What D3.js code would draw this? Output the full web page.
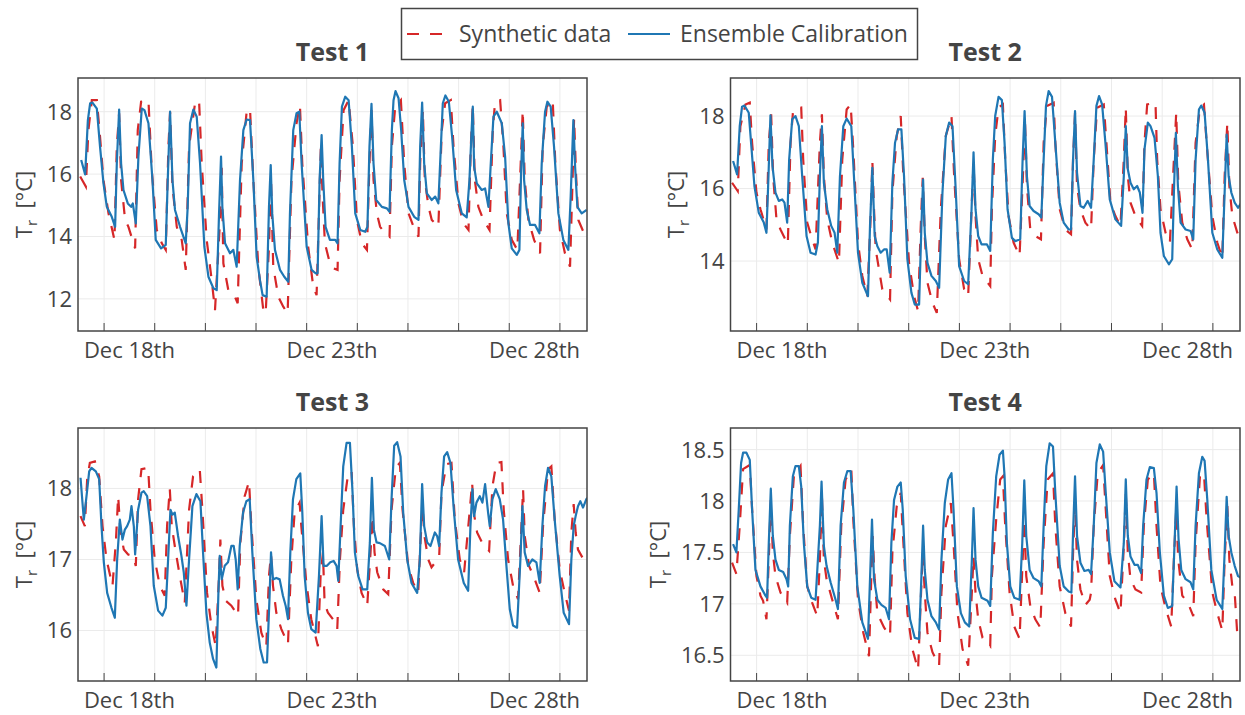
<!DOCTYPE html>
<html>
<head>
<meta charset="utf-8">
<script src="https://cdn.jsdelivr.net/npm/d3@7"></script>
<style>
  body { margin: 0; background: #fff; }
  svg { font-family: 'Open Sans', sans-serif; }
</style>
</head>
<body>
<div id="container"></div>
<script>
// values, [day, temperature]
const test1Synthetic = [[0.528,15.92],[0.64,15.6],[0.69,17.4],[0.758,18.37],[0.857,18.37],[0.92,17.2],[0.988,15.81],[1.087,14.74],[1.205,13.89],[1.251,16.88],[1.297,17.95],[1.336,15.81],[1.415,14.53],[1.481,14.31],[1.613,13.62],[1.665,17.41],[1.731,18.32],[1.876,18.37],[1.941,16.13],[2.04,14.21],[2.14,13.78],[2.218,13.57],[2.27,16.88],[2.303,18.0],[2.35,15.6],[2.435,14.31],[2.533,13.89],[2.612,12.93],[2.678,16.88],[2.796,18.27],[2.875,18.37],[2.928,16.34],[3.026,13.89],[3.125,12.6],[3.19,11.64],[3.29,14.53],[3.322,16.2],[3.355,13.14],[3.453,12.28],[3.552,12.18],[3.638,11.86],[3.717,16.34],[3.815,18.0],[3.881,18.1],[3.947,15.81],[4.045,13.03],[4.144,11.64],[4.19,11.53],[4.256,13.67],[4.295,15.9],[4.34,13.03],[4.44,12.07],[4.538,11.75],[4.624,11.53],[4.7,15.81],[4.8,17.63],[4.867,18.21],[4.913,16.34],[5.03,13.67],[5.13,12.39],[5.196,12.12],[5.242,14.74],[5.28,16.88],[5.315,15.28],[5.36,13.78],[5.459,13.14],[5.532,12.98],[5.61,12.93],[5.65,15.81],[5.729,18.05],[5.828,18.37],[5.913,16.88],[5.992,14.53],[6.09,13.78],[6.19,13.57],[6.24,16.34],[6.28,18.05],[6.32,15.81],[6.386,14.74],[6.45,14.31],[6.55,14.1],[6.636,13.99],[6.682,16.88],[6.748,18.16],[6.86,18.37],[6.926,16.34],[7.011,14.74],[7.11,14.31],[7.208,13.99],[7.241,16.34],[7.294,18.05],[7.333,15.81],[7.406,14.95],[7.47,14.53],[7.6,14.31],[7.668,17.41],[7.734,18.27],[7.846,18.37],[7.9,16.88],[7.997,15.06],[8.096,14.42],[8.195,14.21],[8.24,16.88],[8.28,18.21],[8.32,15.81],[8.39,14.95],[8.49,14.53],[8.61,14.21],[8.675,17.41],[8.72,18.32],[8.82,18.37],[8.885,16.88],[8.95,14.74],[9.05,13.89],[9.16,13.57],[9.226,16.34],[9.266,18.05],[9.306,15.81],[9.378,14.53],[9.49,13.89],[9.608,13.46],[9.66,16.88],[9.74,18.16],[9.858,18.37],[9.91,16.34],[10.0,14.21],[10.1,13.46],[10.2,13.03],[10.25,15.81],[10.28,17.79],[10.318,16.02],[10.364,14.53],[10.463,14.15],[10.56,13.99]];
const test1Ensemble = [[0.548,16.45],[0.626,15.99],[0.68,17.73],[0.725,18.27],[0.77,18.29],[0.857,18.1],[0.92,16.88],[0.988,15.7],[1.054,14.95],[1.152,14.63],[1.218,14.31],[1.251,16.34],[1.297,18.07],[1.336,16.34],[1.383,15.49],[1.468,15.06],[1.534,14.95],[1.567,15.06],[1.626,14.42],[1.678,16.56],[1.744,18.1],[1.797,18.05],[1.876,17.63],[1.955,15.81],[2.02,13.89],[2.125,13.62],[2.218,13.73],[2.257,15.81],[2.303,18.0],[2.35,15.81],[2.4,14.85],[2.5,14.31],[2.612,13.78],[2.651,14.95],[2.697,17.63],[2.763,18.07],[2.829,17.84],[2.895,16.34],[2.98,13.67],[3.06,12.71],[3.158,12.34],[3.224,12.28],[3.27,14.74],[3.309,16.56],[3.335,14.95],[3.388,13.78],[3.486,13.46],[3.552,13.57],[3.618,13.03],[3.684,15.81],[3.75,17.41],[3.815,17.75],[3.881,17.73],[3.947,15.81],[4.012,13.35],[4.078,12.6],[4.13,12.12],[4.21,12.07],[4.256,14.95],[4.29,16.29],[4.32,14.74],[4.374,13.57],[4.473,12.93],[4.558,12.71],[4.637,12.55],[4.67,14.74],[4.735,17.41],[4.8,17.95],[4.854,18.0],[4.9,16.34],[5.0,13.67],[5.097,12.93],[5.176,12.82],[5.216,12.82],[5.255,15.81],[5.295,17.25],[5.327,15.81],[5.373,14.31],[5.459,13.89],[5.565,13.89],[5.61,13.78],[5.65,16.34],[5.696,18.16],[5.762,18.48],[5.828,18.37],[5.893,16.88],[5.959,14.74],[6.058,14.21],[6.156,14.15],[6.2,14.31],[6.24,16.88],[6.28,18.25],[6.32,16.34],[6.373,15.17],[6.485,14.95],[6.584,14.9],[6.636,14.79],[6.682,17.41],[6.715,18.37],[6.755,18.66],[6.814,18.43],[6.866,17.41],[6.926,15.81],[7.011,14.95],[7.123,14.63],[7.208,14.53],[7.241,16.88],[7.28,18.29],[7.32,16.34],[7.373,15.38],[7.47,15.17],[7.537,15.28],[7.6,15.06],[7.65,16.88],[7.688,18.27],[7.74,18.52],[7.807,18.32],[7.872,17.2],[7.951,15.49],[8.063,14.74],[8.16,14.61],[8.214,15.81],[8.26,17.52],[8.28,18.16],[8.306,16.24],[8.359,15.7],[8.457,15.49],[8.523,15.54],[8.589,14.95],[8.635,16.34],[8.688,17.84],[8.754,18.0],[8.852,17.63],[8.918,16.56],[8.983,14.42],[9.049,13.62],[9.148,13.41],[9.2,13.57],[9.233,16.02],[9.266,17.63],[9.293,15.81],[9.345,14.85],[9.411,14.37],[9.51,14.37],[9.595,14.1],[9.641,16.34],[9.707,18.0],[9.753,18.32],[9.818,18.16],[9.884,16.88],[9.97,14.74],[10.068,13.89],[10.167,13.57],[10.213,15.28],[10.266,17.73],[10.3,16.24],[10.345,14.95],[10.43,14.74],[10.528,14.85]];

const test2Synthetic = [[0.516,16.16],[0.628,15.93],[0.68,17.72],[0.78,18.32],[0.865,18.37],[0.911,17.26],[0.997,15.89],[1.076,15.43],[1.194,14.87],[1.24,17.26],[1.287,18.05],[1.326,16.34],[1.392,15.15],[1.471,14.87],[1.616,14.46],[1.669,17.26],[1.721,18.18],[1.88,18.23],[1.919,16.8],[1.998,15.06],[2.097,14.6],[2.163,14.32],[2.248,17.26],[2.288,18.05],[2.327,16.34],[2.393,15.15],[2.492,14.51],[2.624,13.95],[2.69,16.8],[2.776,18.18],[2.855,18.32],[2.907,17.08],[3.0,14.51],[3.085,13.59],[3.184,13.03],[3.25,15.24],[3.283,16.76],[3.316,15.43],[3.349,14.32],[3.48,13.22],[3.632,12.94],[3.678,15.89],[3.764,17.45],[3.843,18.0],[3.895,16.34],[4.007,13.95],[4.106,13.03],[4.185,12.62],[4.238,14.97],[4.277,16.3],[4.317,14.69],[4.37,13.4],[4.469,12.85],[4.554,12.57],[4.633,15.43],[4.732,17.45],[4.844,18.0],[4.897,16.34],[4.995,14.05],[5.094,13.22],[5.173,13.03],[5.24,15.43],[5.279,16.71],[5.318,15.24],[5.371,14.05],[5.457,13.59],[5.509,13.49],[5.608,13.31],[5.641,15.43],[5.706,17.45],[5.772,18.23],[5.858,18.32],[5.904,16.8],[5.97,15.24],[6.069,14.51],[6.187,14.14],[6.253,16.34],[6.293,17.91],[6.332,16.07],[6.398,14.87],[6.497,14.69],[6.609,14.6],[6.662,17.26],[6.727,18.28],[6.86,18.37],[6.892,17.26],[6.978,15.43],[7.09,14.87],[7.202,14.74],[7.242,16.8],[7.281,18.09],[7.32,16.07],[7.387,15.43],[7.485,15.06],[7.597,14.87],[7.65,16.8],[7.716,18.23],[7.848,18.32],[7.9,17.26],[7.979,15.61],[8.078,15.24],[8.177,14.97],[8.243,16.8],[8.282,18.23],[8.322,16.34],[8.375,15.61],[8.473,15.24],[8.605,14.97],[8.651,17.26],[8.704,18.32],[8.868,18.37],[8.901,16.8],[8.967,15.43],[9.066,14.78],[9.152,14.51],[9.231,16.8],[9.277,18.09],[9.317,16.16],[9.396,15.06],[9.495,14.6],[9.593,14.32],[9.659,17.26],[9.745,18.23],[9.824,18.32],[9.877,17.26],[9.989,15.24],[10.087,14.51],[10.186,14.09],[10.232,16.34],[10.285,17.82],[10.325,16.07],[10.384,15.24],[10.483,14.78],[10.562,14.51]];
const test2Ensemble = [[0.536,16.76],[0.615,16.39],[0.667,17.72],[0.713,18.26],[0.76,18.29],[0.845,18.09],[0.891,17.26],[0.957,16.07],[1.043,15.33],[1.142,15.06],[1.194,14.78],[1.234,16.34],[1.273,18.02],[1.313,16.62],[1.372,15.89],[1.438,15.66],[1.504,15.7],[1.55,15.61],[1.603,15.06],[1.642,16.8],[1.702,17.91],[1.767,18.0],[1.833,17.72],[1.899,16.34],[1.985,14.69],[2.064,14.23],[2.163,14.18],[2.209,14.51],[2.248,16.34],[2.288,17.72],[2.327,16.16],[2.393,15.43],[2.472,14.97],[2.538,14.78],[2.591,14.23],[2.644,16.34],[2.71,17.72],[2.776,17.93],[2.868,17.72],[2.92,16.34],[3.0,14.23],[3.085,13.4],[3.197,13.03],[3.237,14.97],[3.283,16.57],[3.329,14.69],[3.382,14.41],[3.447,14.23],[3.513,14.32],[3.566,14.32],[3.625,13.68],[3.678,16.16],[3.73,17.26],[3.79,17.63],[3.856,17.63],[3.908,16.34],[3.974,14.05],[4.053,13.13],[4.12,12.8],[4.205,12.8],[4.251,14.97],[4.284,16.25],[4.317,14.78],[4.37,13.95],[4.449,13.59],[4.535,13.45],[4.6,13.26],[4.666,15.89],[4.732,17.45],[4.798,17.82],[4.864,17.72],[4.93,15.89],[4.995,13.86],[5.094,13.45],[5.173,13.36],[5.24,15.43],[5.279,17.0],[5.318,15.43],[5.371,14.69],[5.437,14.46],[5.542,14.46],[5.608,14.28],[5.66,16.8],[5.706,18.0],[5.772,18.53],[5.838,18.44],[5.891,17.26],[5.95,15.43],[6.036,14.64],[6.102,14.55],[6.2,14.6],[6.247,16.8],[6.286,18.14],[6.332,16.34],[6.385,15.52],[6.464,15.38],[6.563,15.29],[6.616,15.2],[6.662,16.8],[6.708,18.28],[6.761,18.69],[6.827,18.53],[6.892,17.26],[6.978,15.61],[7.057,15.06],[7.156,14.87],[7.202,14.87],[7.242,16.8],[7.281,18.14],[7.32,16.44],[7.387,15.52],[7.452,15.47],[7.531,15.66],[7.597,15.47],[7.65,16.8],[7.703,18.28],[7.755,18.55],[7.815,18.32],[7.88,17.26],[7.966,15.7],[8.078,15.15],[8.19,14.97],[8.243,16.34],[8.282,17.72],[8.322,16.53],[8.375,16.16],[8.44,15.98],[8.506,16.07],[8.559,15.89],[8.612,15.33],[8.651,17.08],[8.717,17.82],[8.77,17.72],[8.849,17.4],[8.915,16.34],[8.967,14.78],[9.033,14.14],[9.132,13.91],[9.198,14.05],[9.231,15.89],[9.27,17.54],[9.31,16.07],[9.363,15.06],[9.462,14.87],[9.56,14.83],[9.613,14.6],[9.659,16.8],[9.725,18.18],[9.771,18.29],[9.837,18.09],[9.903,16.8],[9.989,14.78],[10.087,14.32],[10.186,14.09],[10.232,15.89],[10.272,17.49],[10.311,16.34],[10.364,15.89],[10.43,15.61],[10.496,15.47],[10.562,15.61]];

const test3Synthetic = [[0.535,17.61],[0.62,17.47],[0.666,18.13],[0.719,18.36],[0.818,18.38],[0.903,18.17],[0.969,17.47],[1.048,17.0],[1.166,16.63],[1.232,17.24],[1.278,17.89],[1.324,17.38],[1.39,17.14],[1.475,17.07],[1.574,17.05],[1.626,16.91],[1.672,17.85],[1.738,18.27],[1.87,18.29],[1.916,17.7],[2.0,17.0],[2.1,16.63],[2.198,16.49],[2.244,17.47],[2.297,18.0],[2.336,17.47],[2.396,17.19],[2.494,16.77],[2.593,16.39],[2.678,17.7],[2.757,18.17],[2.889,18.27],[2.941,17.7],[3.033,16.53],[3.119,16.07],[3.204,15.78],[3.27,16.77],[3.296,17.28],[3.336,16.63],[3.402,16.42],[3.513,16.35],[3.645,16.21],[3.691,17.24],[3.776,17.89],[3.862,18.1],[3.908,17.47],[4.006,16.44],[4.105,15.97],[4.203,15.78],[4.256,16.77],[4.296,17.07],[4.335,16.63],[4.401,16.25],[4.5,16.02],[4.631,15.81],[4.697,17.0],[4.762,17.66],[4.861,17.8],[4.894,17.47],[4.993,16.67],[5.091,16.16],[5.222,15.78],[5.275,16.77],[5.321,17.1],[5.354,16.39],[5.42,16.25],[5.518,16.16],[5.604,16.02],[5.657,17.0],[5.722,17.7],[5.821,18.22],[5.887,18.24],[5.933,17.47],[5.998,16.86],[6.084,16.53],[6.196,16.35],[6.261,17.1],[6.3,17.61],[6.34,17.1],[6.393,16.82],[6.511,16.58],[6.61,16.51],[6.676,17.7],[6.761,18.29],[6.84,18.36],[6.893,17.7],[7.005,16.91],[7.103,16.67],[7.202,16.53],[7.247,17.24],[7.287,17.75],[7.326,17.33],[7.4,17.0],[7.465,16.89],[7.616,17.03],[7.662,17.94],[7.76,18.34],[7.859,18.36],[7.925,17.56],[8.023,17.0],[8.109,16.82],[8.221,17.7],[8.267,18.08],[8.3,17.66],[8.365,17.38],[8.484,17.21],[8.602,17.12],[8.668,18.03],[8.747,18.36],[8.845,18.37],[8.891,17.7],[8.977,17.0],[9.075,16.63],[9.174,16.44],[9.24,17.47],[9.273,17.99],[9.305,17.33],[9.391,16.91],[9.503,16.72],[9.601,16.53],[9.667,17.47],[9.766,18.27],[9.831,18.31],[9.897,17.56],[9.996,16.86],[10.094,16.53],[10.18,16.28],[10.226,17.38],[10.272,17.78],[10.311,17.38],[10.357,17.14],[10.443,17.03]];
const test3Ensemble = [[0.535,18.15],[0.6,17.56],[0.653,17.89],[0.706,18.24],[0.752,18.29],[0.837,18.24],[0.903,18.13],[0.949,17.47],[0.995,16.96],[1.061,16.53],[1.146,16.32],[1.212,16.18],[1.258,17.0],[1.311,17.56],[1.363,17.28],[1.41,17.42],[1.455,17.47],[1.508,17.56],[1.541,17.75],[1.587,17.47],[1.613,17.07],[1.672,17.7],[1.738,17.94],[1.784,17.96],[1.85,17.89],[1.916,17.47],[1.981,16.63],[2.067,16.28],[2.152,16.21],[2.218,16.32],[2.264,17.0],[2.31,17.7],[2.35,17.63],[2.396,17.66],[2.461,17.33],[2.527,17.05],[2.573,16.82],[2.626,16.35],[2.678,17.0],[2.744,17.75],[2.823,17.92],[2.902,17.82],[2.954,17.1],[3.02,16.25],[3.086,15.83],[3.152,15.6],[3.217,15.48],[3.257,16.53],[3.283,17.05],[3.323,16.72],[3.382,16.91],[3.447,16.96],[3.513,17.19],[3.559,17.19],[3.599,17.0],[3.638,16.58],[3.678,17.19],[3.744,17.66],[3.809,17.82],[3.875,17.85],[3.927,17.1],[4.006,16.16],[4.085,15.74],[4.151,15.55],[4.217,15.55],[4.27,16.53],[4.296,17.1],[4.335,16.72],[4.401,16.74],[4.467,16.72],[4.532,16.49],[4.585,16.35],[4.631,16.16],[4.677,17.1],[4.73,17.85],[4.796,18.13],[4.874,18.21],[4.914,17.66],[4.96,16.77],[5.025,16.25],[5.091,16.02],[5.177,15.97],[5.243,16.77],[5.295,17.61],[5.334,16.91],[5.4,16.91],[5.466,16.96],[5.532,16.98],[5.59,16.91],[5.624,16.7],[5.67,17.47],[5.722,18.31],[5.788,18.64],[5.854,18.64],[5.906,17.94],[5.952,17.1],[6.018,16.77],[6.104,16.58],[6.196,16.58],[6.248,17.24],[6.288,18.15],[6.327,17.42],[6.38,17.24],[6.445,17.23],[6.544,17.19],[6.63,17.0],[6.676,17.85],[6.728,18.6],[6.787,18.65],[6.853,18.45],[6.906,17.66],[6.985,17.0],[7.07,16.67],[7.182,16.53],[7.234,17.0],[7.28,18.06],[7.32,17.47],[7.379,17.24],[7.445,17.19],[7.53,17.38],[7.576,17.33],[7.616,17.19],[7.662,17.94],[7.714,18.45],[7.774,18.51],[7.839,18.36],[7.905,17.7],[7.99,17.0],[8.102,16.67],[8.188,16.56],[8.234,17.47],[8.273,17.99],[8.306,17.61],[8.352,17.8],[8.418,17.89],[8.47,17.8],[8.523,18.06],[8.582,17.66],[8.615,17.47],[8.668,17.85],[8.733,17.99],[8.812,17.85],[8.878,17.56],[8.944,16.91],[9.01,16.3],[9.075,16.07],[9.154,16.04],[9.22,17.0],[9.26,17.75],[9.305,17.1],[9.371,16.91],[9.456,17.0],[9.536,16.96],[9.601,16.67],[9.654,17.47],[9.707,18.03],[9.766,18.29],[9.831,18.17],[9.897,17.56],[9.996,16.77],[10.075,16.25],[10.18,16.09],[10.226,17.0],[10.272,17.47],[10.311,17.61],[10.357,17.75],[10.403,17.82],[10.456,17.73],[10.522,17.85],[10.555,17.87]];

const test4Synthetic = [[0.516,17.4],[0.601,17.29],[0.667,17.76],[0.733,18.31],[0.865,18.35],[0.911,17.92],[0.997,17.27],[1.076,17.08],[1.128,17.03],[1.194,16.85],[1.24,17.43],[1.28,18.01],[1.32,17.5],[1.372,17.27],[1.471,17.11],[1.603,17.01],[1.656,17.66],[1.735,18.24],[1.866,18.34],[1.919,17.76],[1.998,17.17],[2.097,17.01],[2.196,16.88],[2.248,17.43],[2.288,18.05],[2.327,17.43],[2.38,17.24],[2.492,17.04],[2.604,16.85],[2.67,17.76],[2.756,18.21],[2.868,18.31],[2.907,17.82],[3.0,17.04],[3.105,16.72],[3.217,16.49],[3.263,17.27],[3.289,17.66],[3.329,17.24],[3.382,16.91],[3.513,16.77],[3.632,16.69],[3.678,17.5],[3.764,17.95],[3.843,18.08],[3.876,17.76],[3.974,16.91],[4.073,16.56],[4.185,16.36],[4.238,17.04],[4.277,17.5],[4.317,17.11],[4.37,16.72],[4.469,16.53],[4.6,16.4],[4.646,17.11],[4.732,17.76],[4.831,17.98],[4.884,17.59],[4.963,16.91],[5.062,16.56],[5.173,16.4],[5.239,17.04],[5.279,17.46],[5.318,17.11],[5.371,16.85],[5.457,16.67],[5.522,16.64],[5.608,16.59],[5.641,17.27],[5.726,17.82],[5.805,18.21],[5.858,18.24],[5.904,17.76],[5.99,17.11],[6.082,16.78],[6.187,16.66],[6.24,17.33],[6.28,17.82],[6.319,17.27],[6.398,16.98],[6.497,16.85],[6.596,16.77],[6.662,17.59],[6.741,18.21],[6.846,18.27],[6.892,17.76],[6.978,17.17],[7.09,16.91],[7.202,16.78],[7.242,17.5],[7.281,17.98],[7.32,17.43],[7.387,17.14],[7.485,16.99],[7.57,17.04],[7.597,17.11],[7.65,17.76],[7.729,18.27],[7.835,18.35],[7.887,17.92],[7.966,17.27],[8.078,17.04],[8.177,16.91],[8.243,17.56],[8.282,18.08],[8.322,17.5],[8.375,17.24],[8.473,17.14],[8.585,17.11],[8.638,17.76],[8.717,18.21],[8.836,18.27],[8.888,17.76],[8.967,17.17],[9.066,16.96],[9.178,16.78],[9.231,17.43],[9.277,17.92],[9.317,17.43],[9.396,17.08],[9.508,17.01],[9.613,16.88],[9.659,17.59],[9.745,18.24],[9.824,18.27],[9.877,17.82],[9.989,17.11],[10.087,16.91],[10.186,16.74],[10.232,17.43],[10.285,17.95],[10.325,17.43],[10.384,17.17],[10.43,17.11],[10.483,16.69],[10.56,16.64]];
const test4Ensemble = [[0.536,17.58],[0.601,17.5],[0.648,17.92],[0.694,18.37],[0.733,18.47],[0.799,18.47],[0.865,18.4],[0.911,17.92],[0.977,17.33],[1.076,17.17],[1.175,17.08],[1.207,17.06],[1.24,17.59],[1.28,18.12],[1.32,17.66],[1.372,17.43],[1.438,17.33],[1.524,17.31],[1.59,17.24],[1.623,17.17],[1.656,17.76],[1.715,18.24],[1.767,18.34],[1.833,18.34],[1.88,18.14],[1.932,17.59],[1.998,17.17],[2.077,17.06],[2.163,17.04],[2.248,17.76],[2.281,18.19],[2.327,17.56],[2.38,17.37],[2.459,17.21],[2.558,17.04],[2.604,16.95],[2.657,17.76],[2.723,18.18],[2.789,18.29],[2.855,18.29],[2.907,17.92],[2.986,17.17],[3.085,16.82],[3.197,16.66],[3.25,17.43],[3.276,17.82],[3.316,17.24],[3.382,17.04],[3.461,16.99],[3.546,16.96],[3.612,16.85],[3.658,17.59],[3.711,18.01],[3.777,18.14],[3.843,18.18],[3.882,17.92],[3.941,17.27],[4.027,16.85],[4.119,16.67],[4.205,16.66],[4.251,17.27],[4.284,17.76],[4.317,17.33],[4.37,17.04],[4.449,16.88],[4.535,16.82],[4.6,16.75],[4.646,17.43],[4.712,17.98],[4.778,18.21],[4.844,18.27],[4.884,17.92],[4.95,17.17],[5.029,16.91],[5.108,16.82],[5.193,16.78],[5.246,17.43],[5.279,17.93],[5.318,17.43],[5.371,17.17],[5.437,17.06],[5.516,17.04],[5.555,17.03],[5.608,16.98],[5.66,17.69],[5.726,18.24],[5.792,18.45],[5.858,18.49],[5.891,18.24],[5.937,17.59],[6.003,17.17],[6.082,17.06],[6.187,17.04],[6.24,17.59],[6.28,18.2],[6.319,17.66],[6.385,17.33],[6.464,17.25],[6.563,17.22],[6.616,17.17],[6.662,17.76],[6.714,18.34],[6.78,18.56],[6.846,18.53],[6.892,18.08],[6.978,17.37],[7.057,17.17],[7.156,17.12],[7.209,17.11],[7.242,17.69],[7.281,18.24],[7.32,17.66],[7.387,17.4],[7.466,17.32],[7.551,17.33],[7.597,17.29],[7.65,17.76],[7.703,18.37],[7.769,18.55],[7.835,18.48],[7.887,18.08],[7.966,17.5],[8.058,17.22],[8.177,17.16],[8.243,17.59],[8.282,18.21],[8.322,17.66],[8.375,17.46],[8.454,17.38],[8.52,17.38],[8.585,17.3],[8.625,17.76],[8.691,18.21],[8.757,18.33],[8.836,18.32],[8.888,18.08],[8.954,17.5],[9.033,17.08],[9.112,16.96],[9.198,16.98],[9.244,17.59],[9.284,18.14],[9.323,17.63],[9.376,17.33],[9.462,17.24],[9.56,17.21],[9.613,17.14],[9.659,17.76],[9.725,18.27],[9.791,18.43],[9.837,18.39],[9.89,18.01],[9.969,17.33],[10.074,17.04],[10.186,16.95],[10.232,17.5],[10.272,18.04],[10.311,17.66],[10.364,17.5],[10.43,17.37],[10.496,17.27],[10.562,17.25]];

const seriesNames = ['Synthetic data', 'Ensemble Calibration'];
const panelTitles = ['Test 1', 'Test 2', 'Test 3', 'Test 4'];
const dayRange = [0.485, 10.535];
const dayTicks = [1, 2, 3, 4, 5, 6, 7, 8, 9, 10];
const dateLabels = ['Dec 18th', 'Dec 23th', 'Dec 28th'];
const dateLabelDays = [1.5, 5.5, 9.5];
const tempRanges = [[10.97, 19.08], [12.07, 19.05], [15.29, 18.85], [16.25, 18.71]];
const tempTicks = [[12, 14, 16, 18], [14, 16, 18], [16, 17, 18], [16.5, 17, 17.5, 18, 18.5]];

const syntheticData = [test1Synthetic, test2Synthetic, test3Synthetic, test4Synthetic];
const ensembleData = [test1Ensemble, test2Ensemble, test3Ensemble, test4Ensemble];

const width = 1245; const height = 715;
const red = '#d62728'; const blue = '#1f77b4'; const ink = '#444';
const fs = 22;

const svg = d3.select('#container').append('svg')
    .attr('width', width).attr('height', height);

// plot boxes, left-right / top-bottom
const cols = [[78, 587], [730.5, 1240]];
const rows = [[78, 331], [428, 681]];

panelTitles.forEach((title, i) => {
  const [x0, x1] = cols[i % 2];
  const [y0, y1] = rows[Math.floor(i / 2)];
  const x = d3.scaleLinear().domain(dayRange).range([x0, x1]);
  const y = d3.scaleLinear().domain(tempRanges[i]).range([y1, y0]);
  const g = svg.append('g');

  g.append('clipPath').attr('id', 'clip' + i)
      .append('rect').attr('x', x0).attr('y', y0)
      .attr('width', x1 - x0).attr('height', y1 - y0);

  // grid
  g.append('g').selectAll('line').data(dayTicks).join('line')
      .attr('x1', (d) => x(d)).attr('x2', (d) => x(d))
      .attr('y1', y0).attr('y2', y1)
      .attr('stroke', '#ebebeb').attr('stroke-width', 1);
  g.append('g').selectAll('line').data(tempTicks[i]).join('line')
      .attr('x1', x0).attr('x2', x1)
      .attr('y1', (d) => y(d)).attr('y2', (d) => y(d))
      .attr('stroke', '#ebebeb').attr('stroke-width', 1);

  const line = d3.line().x((d) => x(d[0])).y((d) => y(d[1]));
  const lines = g.append('g').attr('clip-path', 'url(#clip' + i + ')');
  lines.append('path').datum(syntheticData[i])
      .attr('d', line).attr('fill', 'none')
      .attr('stroke', red).attr('stroke-width', 2.2)
      .attr('stroke-dasharray', '12,11');
  lines.append('path').datum(ensembleData[i])
      .attr('d', line).attr('fill', 'none')
      .attr('stroke', blue).attr('stroke-width', 2.2)
      .attr('stroke-linejoin', 'round');

  // inside ticks on the date axis
  g.append('g').selectAll('line').data(dayTicks).join('line')
      .attr('x1', (d) => x(d)).attr('x2', (d) => x(d))
      .attr('y1', y1).attr('y2', y1 - 8)
      .attr('stroke', ink).attr('stroke-width', 1);

  g.append('rect').attr('x', x0).attr('y', y0)
      .attr('width', x1 - x0).attr('height', y1 - y0)
      .attr('fill', 'none').attr('stroke', ink).attr('stroke-width', 1.5);

  const yl = g.append('g').selectAll('text').data(tempTicks[i]).join('text')
      .attr('x', x0 - 6).attr('y', (d) => y(d)).attr('dy', '0.36em')
      .attr('text-anchor', 'end').attr('fill', ink).style('font-size', fs + 'px')
      .text((d) => d3.format('~g')(d));
  const labW = d3.max(yl.nodes(), (n) => n.getComputedTextLength());

  g.append('g').selectAll('text').data(dateLabelDays).join('text')
      .attr('x', (d) => x(d)).attr('y', y1 + 27)
      .attr('text-anchor', 'middle').attr('fill', ink).style('font-size', fs + 'px')
      .text((d, k) => dateLabels[k]);

  g.append('text').attr('x', (x0 + x1) / 2).attr('y', y0 - 17)
      .attr('text-anchor', 'middle').attr('fill', ink)
      .style('font-size', '25px').style('font-weight', 'bold')
      .text(title);

  const tx = x0 - 6 - labW - 15;
  const yt = g.append('text')
      .attr('transform', 'translate(' + tx + ',' + ((y0 + y1) / 2) + ') rotate(-90)')
      .attr('text-anchor', 'middle').attr('fill', ink).style('font-size', fs + 'px');
  yt.append('tspan').text('T');
  yt.append('tspan').attr('dy', 5).style('font-size', '15px').text('r');
  yt.append('tspan').attr('dy', -5).text('\u00a0\u00a0[°C]');
});

// legend
const legend = svg.append('g');
legend.append('rect').attr('x', 401.5).attr('y', 8.5).attr('width', 516).attr('height', 51)
    .attr('fill', '#fff').attr('stroke', ink).attr('stroke-width', 1.5);
const items = [{x: 407, color: red, dash: '12,11'}, {x: 628, color: blue, dash: null}];
items.forEach((it, k) => {
  legend.append('line').attr('x1', it.x).attr('x2', it.x + 42)
      .attr('y1', 34).attr('y2', 34)
      .attr('stroke', it.color).attr('stroke-width', 2.2)
      .attr('stroke-dasharray', it.dash);
  legend.append('text').attr('x', it.x + 52).attr('y', 34).attr('dy', '0.36em')
      .attr('fill', ink).style('font-size', '23px').text(seriesNames[k]);
});
</script>
</body>
</html>
